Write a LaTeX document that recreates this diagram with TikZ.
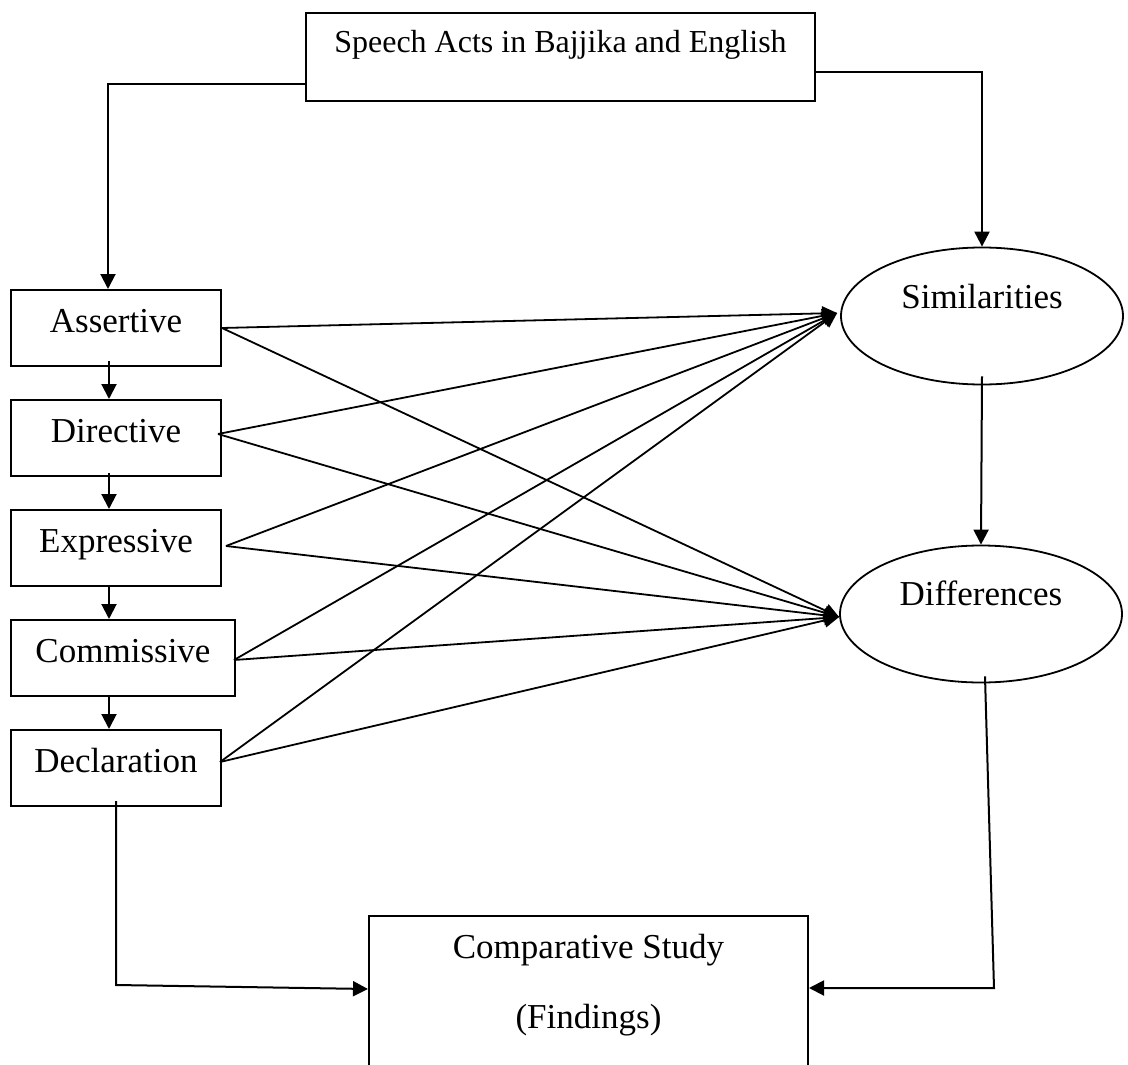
\documentclass[tikz,border=0pt]{standalone}
\usepackage{fontspec}
\setmainfont{Liberation Serif}
\usetikzlibrary{arrows.meta,shapes.geometric,calc}
\begin{document}
\begin{tikzpicture}[x=1pt,y=-1pt,
  lbl/.style={font=\fontsize{35}{42}\selectfont, inner sep=0pt, text height=23pt},
  box/.style={lbl, draw, line width=2pt, rectangle},
  leftbox/.style={box, minimum width=210pt, minimum height=76pt, text depth=15pt},
  oval/.style={lbl, draw, line width=1.8pt, ellipse, minimum width=282pt, minimum height=137pt},
  arr/.style={line width=2pt, -{Triangle[length=15pt,width=15pt]}},
  cross/.style={line width=1.8pt, -{Triangle[length=15pt,width=14pt]}}]
\useasboundingbox (0,0) rectangle (1128,1065);
\clip (0,0) rectangle (1128,1065);

\node[box, font=\fontsize{32}{38}\selectfont, minimum width=509pt, minimum height=88pt, text height=21pt, text depth=29pt] (top) at (560.5,57) {Speech Acts in Bajjika and English};

\node[leftbox] (ass) at (116,328) {Assertive};
\node[leftbox] (dir) at (116,438) {Directive};
\node[leftbox] (exp) at (116,548) {Expressive};
\node[leftbox, minimum width=224pt] (com) at (123,658) {Commissive};
\node[leftbox] (dec) at (116,768) {Declaration};

\node[oval, text depth=39pt] (sim) at (982,316) {Similarities};
\node[oval, text depth=41pt] (dif) at (981,614) {Differences};

\node[box, minimum width=439pt, minimum height=200pt, align=center,
  font=\fontsize{35}{70}\selectfont, text height=94pt, text depth=70pt] (cmp) at (588.5,1016) {Comparative Study\\(Findings)};

% top connectors
\draw[arr] ([yshift=18pt]top.south west) -| ([xshift=-8pt]ass.north);
\draw[arr] ([yshift=30pt]top.south east) -| (sim.north);

% left chain
\draw[arr] ([xshift=-7pt,yshift=6pt]ass.south) -- ([xshift=-7pt]dir.north);
\draw[arr] ([xshift=-7pt,yshift=4pt]dir.south) -- ([xshift=-7pt]exp.north);
\draw[arr] ([xshift=-7pt]exp.south) -- ([xshift=-14pt]com.north);
\draw[arr] ([xshift=-14pt]com.south) -- ([xshift=-7pt]dec.north);

% right chain
\draw[arr] ([yshift=9pt]sim.south) -- (dif.north);

% cross connectors
\coordinate (simT) at ([xshift=-3pt,yshift=3pt]sim.west);
\coordinate (difT) at ([yshift=-3pt]dif.west);
\draw[cross] (ass.east) -- (simT);
\draw[cross] (ass.east) -- (difT);
\draw[cross] ([xshift=-4pt,yshift=4pt]dir.east) -- (simT);
\draw[cross] ([xshift=-4pt,yshift=4pt]dir.east) -- (difT);
\draw[cross] ([xshift=4pt,yshift=2pt]exp.east) -- (simT);
\draw[cross] ([xshift=4pt,yshift=2pt]exp.east) -- (difT);
\draw[cross] ([xshift=-2pt,yshift=-2pt]com.east) -- (simT);
\draw[cross] ([xshift=-2pt,yshift=-2pt]com.east) -- (difT);
\draw[cross] ([xshift=-2pt,yshift=6pt]dec.east) -- (simT);
\draw[cross] ([xshift=-2pt,yshift=6pt]dec.east) -- (difT);

% to comparative study
\coordinate (lc) at (116,985);
\coordinate (rc) at (994,988);
\draw[arr] ([yshift=6pt]dec.south) -- (lc) -- ([yshift=27pt]cmp.west);
\draw[arr] ([xshift=4pt,yshift=7pt]dif.south) -- (rc) -- (cmp.east |- rc);
\end{tikzpicture}
\end{document}
